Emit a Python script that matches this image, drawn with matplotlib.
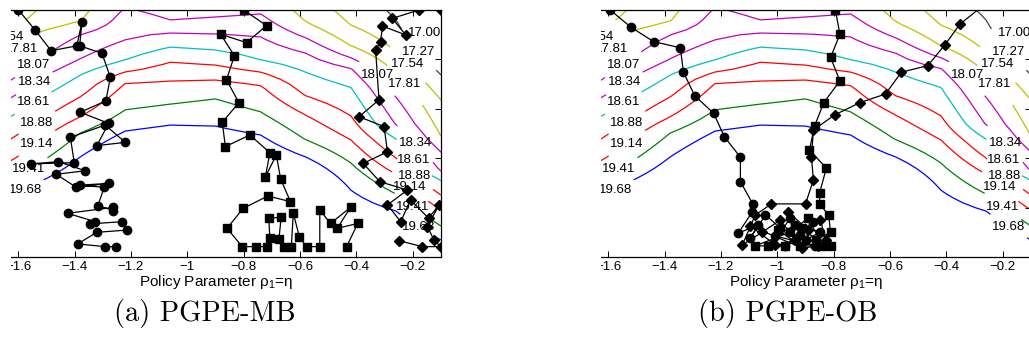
import numpy as np
import matplotlib
matplotlib.use('Agg')
import matplotlib.pyplot as plt
from matplotlib.patches import Rectangle
from matplotlib.ticker import FuncFormatter

plt.rcParams['font.family'] = ['Liberation Sans', 'DejaVu Sans']
plt.rcParams['mathtext.fontset'] = 'custom'
plt.rcParams['mathtext.rm'] = 'Liberation Sans'
plt.rcParams['mathtext.it'] = 'Liberation Sans'

# contour levels of the expected return and the colour of each level
levels = [17.00, 17.27, 17.54, 17.81, 18.07, 18.34, 18.61, 18.88, 19.14, 19.41, 19.68]
level_colors = ['#0000ff', '#404040', '#bfbf00', '#bfbf00', '#bf00bf', '#bf00bf',
                '#00bfbf', '#ff0000', '#ff0000', '#008000', '#0000ff']

# grid columns (rho_1) and the rho_2 value where each level crosses that column
grid_x = [-1.70, -1.54, -1.38, -1.22, -1.06, -0.90, -0.74, -0.58, -0.42, -0.26, -0.10]
level_y = [
    [1.020, 1.243, 1.385, 1.445, 1.466, 1.466, 1.445, 1.364, 1.263, 1.202, 0.830],  # 17.00
    [0.919, 1.121, 1.263, 1.324, 1.344, 1.344, 1.324, 1.243, 1.089, 0.960, 0.737],  # 17.27
    [0.818, 0.992, 1.121, 1.202, 1.223, 1.223, 1.202, 1.101, 0.939, 0.830, 0.636],  # 17.54
    [0.725, 0.903, 0.951, 1.073, 1.101, 1.101, 1.073, 0.951, 0.854, 0.737, 0.486],  # 17.81
    [0.660, 0.781, 0.899, 1.012, 0.960, 0.968, 0.984, 0.887, 0.806, 0.648, 0.425],  # 18.07
    [0.603, 0.713, 0.802, 0.879, 0.907, 0.903, 0.891, 0.826, 0.765, 0.534, 0.344],  # 18.34
    [0.522, 0.632, 0.737, 0.798, 0.850, 0.838, 0.798, 0.749, 0.688, 0.478, 0.312],  # 18.61
    [0.413, 0.538, 0.648, 0.749, 0.790, 0.777, 0.749, 0.652, 0.571, 0.401, 0.251],  # 18.88
    [0.344, 0.453, 0.567, 0.704, 0.713, 0.717, 0.696, 0.575, 0.474, 0.336, 0.190],  # 19.14
    [0.263, 0.368, 0.502, 0.595, 0.619, 0.640, 0.587, 0.474, 0.381, 0.255, 0.125],  # 19.41
    [0.190, 0.296, 0.405, 0.510, 0.534, 0.530, 0.494, 0.405, 0.271, 0.186, 0.069],  # 19.68
]

# contour labels: level, and the place it sits
label_lvl = [17.54, 17.81, 18.07, 18.34, 18.61, 18.88, 19.14, 19.41, 19.68,
             17.00, 17.27, 17.54, 17.81, 18.07, 18.34, 18.61, 18.88, 19.14, 19.41, 19.68]
label_x = [-1.636, -1.586, -1.547, -1.543, -1.547, -1.533, -1.533, -1.561, -1.575,
           -0.160, -0.179, -0.218, -0.229, -0.328, -0.193, -0.197, -0.193, -0.211, -0.200, -0.179]
label_y = [0.879, 0.838, 0.777, 0.709, 0.628, 0.534, 0.453, 0.352, 0.271,
           0.903, 0.834, 0.777, 0.684, 0.717, 0.441, 0.381, 0.320, 0.263, 0.198, 0.130]

# (a) PGPE-MB trajectories
a_circ_x = [-1.599, -1.540, -1.483, -1.392, -1.374, -1.382, -1.303, -1.273, -1.289, -1.380,
            -1.279, -1.321, -1.220, -1.291, -1.415, -1.401, -1.555, -1.457, -1.362, -1.465,
            -1.394, -1.279, -1.380, -1.295, -1.317, -1.262, -1.262, -1.425, -1.327, -1.344,
            -1.232, -1.214, -1.321, -1.389, -1.293, -1.252]
a_circ_y = [1.000, 0.919, 0.835, 0.855, 0.950, 0.855, 0.825, 0.728, 0.632, 0.586,
            0.541, 0.451, 0.464, 0.534, 0.485, 0.382, 0.377, 0.386, 0.349, 0.335,
            0.282, 0.298, 0.291, 0.282, 0.208, 0.188, 0.201, 0.177, 0.143, 0.134,
            0.143, 0.109, 0.100, 0.053, 0.042, 0.042]
a_sq_x = [-0.800, -0.719, -0.790, -0.882, -0.833, -0.861, -0.817, -0.876, -0.865, -0.778,
          -0.707, -0.723, -0.684, -0.669, -0.634, -0.714, -0.802, -0.859, -0.805, -0.755,
          -0.717, -0.707, -0.711, -0.667, -0.675, -0.658, -0.631, -0.624, -0.602, -0.577,
          -0.530, -0.530, -0.492, -0.421, -0.468, -0.395, -0.435]
a_sq_y = [1.000, 0.937, 0.868, 0.902, 0.815, 0.717, 0.625, 0.545, 0.447, 0.494,
          0.422, 0.325, 0.413, 0.316, 0.224, 0.247, 0.197, 0.116, 0.042, 0.042,
          0.042, 0.076, 0.157, 0.161, 0.073, 0.042, 0.042, 0.177, 0.080, 0.042,
          0.042, 0.190, 0.136, 0.201, 0.116, 0.136, 0.042]
a_dia_x = [-0.099, -0.178, -0.273, -0.225, -0.308, -0.314, -0.332, -0.320, -0.391, -0.302,
           -0.290, -0.376, -0.317, -0.219, -0.290, -0.243, -0.208, -0.144, -0.107, -0.148,
           -0.125, -0.101, -0.166, -0.249]
a_dia_y = [1.000, 1.000, 0.966, 0.899, 0.935, 0.872, 0.838, 0.636, 0.568, 0.528,
           0.426, 0.379, 0.305, 0.271, 0.211, 0.143, 0.231, 0.157, 0.211, 0.123,
           0.069, 0.042, 0.042, 0.066]

# (b) PGPE-OB trajectories
b_circ_x = [-1.593, -1.519, -1.439, -1.344, -1.333, -1.293, -1.226, -1.188, -1.131, -1.131,
            -1.087, -1.090, -1.138, -1.067, -1.096, -1.042, -0.989, -1.017, -0.954, -0.918,
            -0.971, -0.875, -0.900, -0.847, -0.936, -1.007, -0.865]
b_circ_y = [1.000, 0.930, 0.872, 0.847, 0.748, 0.653, 0.582, 0.487, 0.404, 0.305,
            0.215, 0.181, 0.097, 0.130, 0.077, 0.170, 0.117, 0.053, 0.158, 0.089,
            0.045, 0.142, 0.069, 0.101, 0.130, 0.085, 0.045]
b_sq_x = [-0.794, -0.778, -0.811, -0.778, -0.835, -0.868, -0.886, -0.826, -0.850, -0.850,
          -0.818, -0.811, -0.861, -0.911, -0.971, -1.032, -1.078, -0.954, -0.890, -0.840,
          -0.918, -0.996, -0.811]
b_sq_y = [1.000, 0.902, 0.808, 0.713, 0.625, 0.530, 0.433, 0.360, 0.259, 0.215,
          0.170, 0.101, 0.069, 0.117, 0.045, 0.045, 0.045, 0.101, 0.158, 0.045,
          0.045, 0.109, 0.045]
b_dia_x = [-0.222, -0.352, -0.406, -0.466, -0.560, -0.616, -0.707, -0.797, -0.872, -0.879,
           -0.872, -0.900, -1.021, -1.078, -1.124, -1.053, -0.989, -0.936, -0.961, -0.890,
           -0.847, -0.829, -1.007, -1.096, -0.911, -0.854]
b_dia_y = [1.061, 0.943, 0.858, 0.775, 0.748, 0.660, 0.625, 0.575, 0.514, 0.405,
           0.312, 0.215, 0.215, 0.170, 0.049, 0.101, 0.150, 0.069, 0.182, 0.109,
           0.150, 0.069, 0.049, 0.126, 0.036, 0.045]

# surface table for contour(): each grid column follows the crossings above,
# continued past the outer levels with the same spacing
rows = np.linspace(-0.6, 2.6, 161)
lev = np.array(levels)
ly = np.array(level_y)
Z = np.zeros((len(rows), len(grid_x)))
step = lev[1] - lev[0]
for j in range(len(grid_x)):
    top = ly[0, j] + 6 * (ly[0, j] - ly[1, j])
    bot = ly[-1, j] - 6 * (ly[-2, j] - ly[-1, j])
    ys = np.concatenate(([bot], ly[::-1, j], [top]))
    zs = np.concatenate(([lev[-1] + 6 * step], lev[::-1], [lev[0] - 6 * step]))
    Z[:, j] = np.interp(rows, ys, zs)


def tick_fmt(v, pos):
    return ('%g' % round(v, 2)).replace('-', '\u2212')


def draw_panel(ax, trajs, caption, cap_x):
    # one contour call per level so every label lands on its own line
    for lv, col in zip(levels, level_colors):
        cs = ax.contour(grid_x, rows, Z, levels=[lv], colors=[col], linewidths=0.9, zorder=1)
        pos = [(x, y) for l, x, y in zip(label_lvl, label_x, label_y) if l == lv]
        txt = ax.clabel(cs, [lv], inline=True, inline_spacing=2, fontsize=9.5, fmt='%.2f',
                        colors='k', manual=pos)
        for t in txt:
            t.set_rotation(0)
    for x, y, m, s in trajs:
        ax.plot(x, y, '-', color='k', lw=0.9, marker=m, ms=s, mfc='k', mec='k', zorder=4)
    ax.set_xlim(-1.7, -0.1)
    ax.set_ylim(0, 1.0)
    ax.set_xticks(np.arange(-1.6, -0.1, 0.2))
    ax.set_yticks(np.arange(0, 1.01, 0.2))
    ax.xaxis.set_major_formatter(FuncFormatter(tick_fmt))
    ax.tick_params(direction='in', top=True, right=True, length=4, width=0.7,
                   labelsize=9.5, labelleft=False, pad=3)
    for sp in ax.spines.values():
        sp.set_linewidth(0.9)
    ax.set_xlabel('Policy Parameter \u03c1$_{1}$=\u03b7', fontsize=11, labelpad=0)
    fig.text(cap_x, 1 - 313 / 345, caption, fontfamily='cmr10', fontsize=20.5,
             ha='center', va='center')


fig = plt.figure(figsize=(10.29, 3.45), dpi=100)
ax1 = fig.add_axes([-10 / 1029, 88 / 345, 451 / 1029, 247 / 345])
ax2 = fig.add_axes([580 / 1029, 88 / 345, 451 / 1029, 247 / 345])

draw_panel(ax1, [(a_circ_x, a_circ_y, 'o', 6.0), (a_sq_x, a_sq_y, 's', 5.2),
                 (a_dia_x, a_dia_y, 'D', 5.2)], '(a) PGPE-MB', 205 / 1029)
draw_panel(ax2, [(b_circ_x, b_circ_y, 'o', 6.0), (b_sq_x, b_sq_y, 's', 5.2),
                 (b_dia_x, b_dia_y, 'D', 5.2)], '(b) PGPE-OB', 788 / 1029)

# the sub-figures are cropped on their left side
fig.add_artist(Rectangle((0, 0), 11 / 1029, 1, transform=fig.transFigure,
                         facecolor='white', edgecolor='none', zorder=10))
fig.add_artist(Rectangle((443 / 1029, 0), 158 / 1029, 1, transform=fig.transFigure,
                         facecolor='white', edgecolor='none', zorder=10))

plt.savefig('out.png', dpi=100)
